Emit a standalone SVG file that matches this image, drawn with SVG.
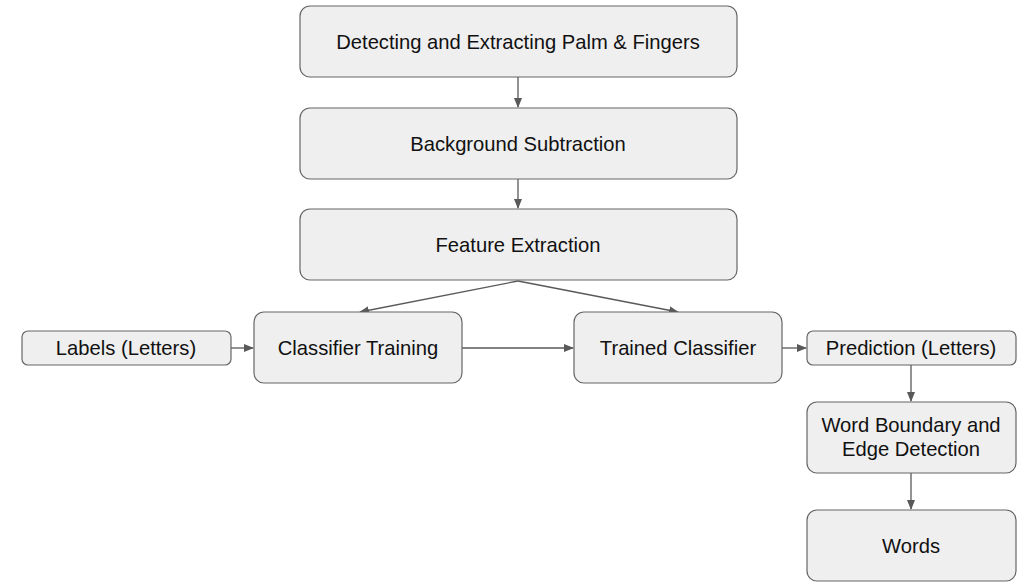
<svg xmlns="http://www.w3.org/2000/svg" width="1029" height="586" viewBox="0 0 1029 586">
<style>
.n{fill:#efefef;stroke:#666;stroke-width:1.2}
.t{font-family:"Liberation Sans",Arial,sans-serif;font-size:20.2px;fill:#111;text-anchor:middle;dominant-baseline:central}
.c{stroke:#595959;stroke-width:1.3;fill:none;marker-end:url(#a)}
</style>
<defs><marker id="a" markerWidth="10" markerHeight="8" refX="9" refY="4" orient="auto" markerUnits="userSpaceOnUse"><path d="M0,0 L10,4 L0,8 z" fill="#595959"/></marker></defs>
<rect width="1029" height="586" fill="#fff"/>
<g id="connectors">
<line class="c" x1="518" y1="77" x2="518" y2="107"/>
<line class="c" x1="518" y1="179" x2="518" y2="208"/>
<line class="c" x1="518" y1="281" x2="360" y2="312"/>
<line class="c" x1="518" y1="281" x2="678" y2="312"/>
<line class="c" x1="231" y1="348" x2="253" y2="348"/>
<line class="c" x1="462" y1="348" x2="573" y2="348"/>
<line class="c" x1="782" y1="348" x2="806" y2="348"/>
<line class="c" x1="911" y1="365" x2="911" y2="401"/>
<line class="c" x1="911" y1="473" x2="911" y2="509"/>
</g>
<g id="n1"><rect class="n" x="300" y="6" width="437" height="71" rx="10"/><text class="t" x="518" y="42">Detecting and Extracting Palm &amp; Fingers</text></g>
<g id="n2"><rect class="n" x="300" y="108" width="437" height="71" rx="10"/><text class="t" x="518" y="144">Background Subtraction</text></g>
<g id="n3"><rect class="n" x="300" y="209" width="437" height="71" rx="10"/><text class="t" x="518" y="245">Feature Extraction</text></g>
<g id="n4"><rect class="n" x="22" y="331" width="209" height="34" rx="6"/><text class="t" x="126" y="348">Labels (Letters)</text></g>
<g id="n5"><rect class="n" x="254" y="312" width="208" height="71" rx="10"/><text class="t" x="358" y="348">Classifier Training</text></g>
<g id="n6"><rect class="n" x="574" y="312" width="208" height="71" rx="10"/><text class="t" x="678" y="348">Trained Classifier</text></g>
<g id="n7"><rect class="n" x="807" y="331" width="209" height="34" rx="6"/><text class="t" x="911" y="348">Prediction (Letters)</text></g>
<g id="n8"><rect class="n" x="807" y="402" width="209" height="71" rx="10"/><text class="t" x="911" y="425">Word Boundary and</text><text class="t" x="911" y="449">Edge Detection</text></g>
<g id="n9"><rect class="n" x="807" y="510" width="209" height="71" rx="10"/><text class="t" x="911" y="546">Words</text></g>
</svg>
